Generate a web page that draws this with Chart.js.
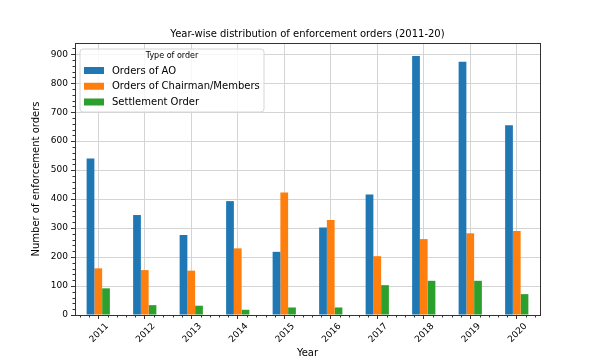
<!DOCTYPE html>
<html><head><meta charset="utf-8">
<script src="https://cdn.jsdelivr.net/npm/chart.js@4.4.1/dist/chart.umd.min.js"></script>
<style>html,body{margin:0;padding:0;background:#fff}#wrap{width:600px;height:360px}</style>
</head><body><div id="wrap"><canvas id="c" width="600" height="360"></canvas></div>
<script>
const years = ['2011','2012','2013','2014','2015','2016','2017','2018','2019','2020'];
const ordersAO = [540, 345, 276, 393, 218, 302, 416, 894, 874, 655];
const ordersChairman = [161, 155, 153, 230, 423, 328, 203, 262, 282, 290];
const settlementOrders = [92, 34, 32, 18, 26, 26, 103, 118, 118, 72];
const seriesNames = ['Orders of AO', 'Orders of Chairman/Members', 'Settlement Order'];
const yMajorTicks = [0, 100, 200, 300, 400, 500, 600, 700, 800, 900];
const chartTitle = 'Year-wise distribution of enforcement orders (2011-20)';
const legendTitle = 'Type of order';
const xTitle = 'Year';
const yTitle = 'Number of enforcement orders';

const FONT = "'DejaVu Sans', sans-serif";
Chart.defaults.font.family = FONT;
Chart.defaults.color = '#000';
const colors = ['#1f77b4', '#ff7f0e', '#2ca02c'];

const framePlugin = {
  id: 'frameAndLegend',
  afterDatasetsDraw(chart) {
    const ctx = chart.ctx, ca = chart.chartArea;
    const xs = chart.scales.x, ys = chart.scales.y;
    ctx.save();
    // minor ticks (5 subdivisions per major interval)
    ctx.strokeStyle = '#333';
    ctx.lineWidth = 1;
    ctx.beginPath();
    const n = years.length;
    for (let v = -0.4; v < n - 0.5; v += 0.2) {
      if (Math.abs(v - Math.round(v)) < 1e-6) continue;
      const px = Math.round(xs.getPixelForValue(v)) + 0.5;
      ctx.moveTo(px, Math.round(ca.bottom));
      ctx.lineTo(px, Math.round(ca.bottom) + 2.5);
    }
    for (let i = 0; i < yMajorTicks.length; i++) {
      const step = 20;
      for (let k = 1; k < 5; k++) {
        const val = yMajorTicks[i] + k * step;
        if (val > ys.max) break;
        const py = Math.round(ys.getPixelForValue(val)) + 0.5;
        ctx.moveTo(Math.round(ca.left), py);
        ctx.lineTo(Math.round(ca.left) - 2.5, py);
      }
    }
    ctx.stroke();
    // frame
    ctx.strokeRect(Math.round(ca.left) + 0.5, Math.round(ca.top) + 0.5,
      Math.round(ca.right) - Math.round(ca.left), Math.round(ca.bottom) - Math.round(ca.top));
    // legend
    const bx = ca.left + 5, by = ca.top + 6, bw = 184, bh = 63, r = 3;
    ctx.beginPath();
    ctx.moveTo(bx + r, by);
    ctx.arcTo(bx + bw, by, bx + bw, by + bh, r);
    ctx.arcTo(bx + bw, by + bh, bx, by + bh, r);
    ctx.arcTo(bx, by + bh, bx, by, r);
    ctx.arcTo(bx, by, bx + bw, by, r);
    ctx.closePath();
    ctx.fillStyle = 'rgba(255,255,255,0.8)';
    ctx.fill();
    ctx.strokeStyle = '#d6d6d6';
    ctx.lineWidth = 1;
    ctx.stroke();
    ctx.fillStyle = '#000';
    ctx.textBaseline = 'middle';
    ctx.textAlign = 'center';
    ctx.font = '8px ' + FONT;
    ctx.fillText(legendTitle, bx + bw / 2, by + 6.5);
    ctx.textAlign = 'left';
    ctx.font = '10px ' + FONT;
    chart.data.datasets.forEach((ds, i) => {
      const cy = by + 21.5 + i * 15.75;
      ctx.fillStyle = ds.backgroundColor;
      ctx.fillRect(bx + 4, cy - 3.5, 20, 7);
      ctx.fillStyle = '#000';
      ctx.fillText(ds.label, bx + 32, cy + 0.5);
    });
    ctx.restore();
  }
};

new Chart(document.getElementById('c'), {
  type: 'bar',
  data: {
    labels: years,
    datasets: [
      { label: seriesNames[0], data: ordersAO, backgroundColor: colors[0] },
      { label: seriesNames[1], data: ordersChairman, backgroundColor: colors[1] },
      { label: seriesNames[2], data: settlementOrders, backgroundColor: colors[2] }
    ]
  },
  options: {
    responsive: false, animation: false, devicePixelRatio: 1,
    layout: { padding: { left: 0, right: 60, top: 0, bottom: 0 } },
    datasets: { bar: { categoryPercentage: 0.5, barPercentage: 1.0 } },
    plugins: {
      legend: { display: false }, tooltip: { enabled: false },
      title: { display: true, text: chartTitle, fullSize: false, color: '#000',
        font: { size: 10, weight: 'normal' }, padding: { top: 28, bottom: 3 } }
    },
    scales: {
      x: {
        grid: { offset: false, color: '#d4d4d4', lineWidth: 1, tickColor: '#333', tickLength: 4 },
        border: { color: '#333' },
        ticks: { minRotation: 45, maxRotation: 45, labelOffset: 9, padding: 2, autoSkip: false, font: { size: 9 }, color: '#000' },
        title: { display: true, text: xTitle, font: { size: 10 }, color: '#000', padding: { top: 0, bottom: 1 } },
        afterFit(s) { s.height = 45; }
      },
      y: {
        min: 0, max: 938.7,
        afterBuildTicks(s) { s.ticks = yMajorTicks.map(v => ({ value: v })); },
        ticks: { autoSkip: false, font: { size: 9 }, color: '#000', padding: 3 },
        grid: { color: '#d4d4d4', tickColor: '#333', tickLength: 4 },
        border: { color: '#333' },
        title: { display: true, text: yTitle, font: { size: 10 }, color: '#000', padding: { top: 30, bottom: 0 } },
        afterFit(s) { s.width = 75; }
      }
    }
  },
  plugins: [framePlugin]
});
</script></body></html>
